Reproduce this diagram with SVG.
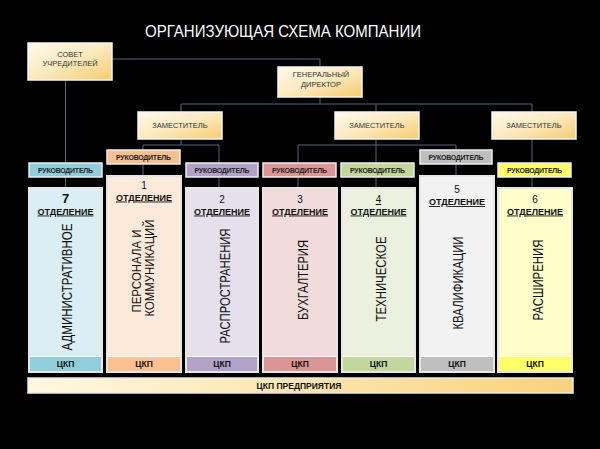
<svg xmlns="http://www.w3.org/2000/svg" width="600" height="449" viewBox="0 0 600 449">
<defs>
<linearGradient id="gold" x1="0" y1="0" x2="1" y2="1">
<stop offset="0" stop-color="#FFFAEC"/>
<stop offset="0.5" stop-color="#FCE9BE"/>
<stop offset="1" stop-color="#F5CC6E"/>
</linearGradient>
<linearGradient id="bar" x1="0" y1="0" x2="1" y2="0">
<stop offset="0" stop-color="#FFF8E2"/>
<stop offset="1" stop-color="#F8D27C"/>
</linearGradient>
</defs>
<style>
text{font-family:"Liberation Sans",Arial,sans-serif;fill:#111}
.gold{fill:url(#gold);stroke:#F4F4F4;stroke-width:1.5}
.gt{font-size:7.5px;fill:#333;text-anchor:middle}
.con{fill:none;stroke:#56627A;stroke-width:1}
.ruk{stroke:#EDEDED;stroke-width:1.5}
.rt{font-size:7px;font-weight:bold;text-anchor:middle;fill:#222}
.dep{stroke:#E6E6E6;stroke-width:2}
.num{font-size:10px;text-anchor:middle}
.otd{font-size:9px;font-weight:bold;text-anchor:middle;text-decoration:underline}
.vt{font-size:14px;text-anchor:middle}
.ckp{font-size:8.5px;font-weight:bold;text-anchor:middle}
</style>
<rect width="600" height="449" fill="#000"/>
<text x="145" y="37" font-size="17" style="fill:#fff" textLength="276" lengthAdjust="spacingAndGlyphs">ОРГАНИЗУЮЩАЯ СХЕМА КОМПАНИИ</text>

<g id="connectors">
<path class="con" d="M112 59H320V67"/>
<path class="con" d="M65.5 80V188"/>
<path class="con" d="M320 97V104M181 112V104H532V112M376 104V112"/>
<path class="con" d="M181 139V145M143 176V145H219V188"/>
<path class="con" d="M376 139V188M298 188V145H456V176"/>
<path class="con" d="M532 139V188"/>
</g>

<g id="sovet"><rect class="gold" x="28" y="43" width="84" height="37"/><text class="gt" x="70" y="57">СОВЕТ</text><text class="gt" x="70" y="66">УЧРЕДИТЕЛЕЙ</text></g>
<g id="gendir"><rect class="gold" x="278" y="67" width="84" height="30"/><text class="gt" x="321" y="77">ГЕНЕРАЛЬНЫЙ</text><text class="gt" x="321" y="87">ДИРЕКТОР</text></g>
<g id="zam1"><rect class="gold" x="138" y="112" width="84" height="27"/><text class="gt" x="180" y="128">ЗАМЕСТИТЕЛЬ</text></g>
<g id="zam2"><rect class="gold" x="335" y="112" width="84" height="27"/><text class="gt" x="377" y="128">ЗАМЕСТИТЕЛЬ</text></g>
<g id="zam3"><rect class="gold" x="492" y="112" width="84" height="27"/><text class="gt" x="534" y="128">ЗАМЕСТИТЕЛЬ</text></g>

<g id="ruk7"><rect class="ruk" x="29" y="163" width="73" height="14" fill="#92CDDC"/><text class="rt" x="65.5" y="172.5" textLength="55">РУКОВОДИТЕЛЬ</text></g>
<g id="ruk1"><rect class="ruk" x="107" y="150" width="73" height="14" fill="#FAC090"/><text class="rt" x="143.5" y="159.5" textLength="55">РУКОВОДИТЕЛЬ</text></g>
<g id="ruk2"><rect class="ruk" x="186" y="163" width="72" height="14" fill="#B3A2C7"/><text class="rt" x="222" y="172.5" textLength="55">РУКОВОДИТЕЛЬ</text></g>
<g id="ruk3"><rect class="ruk" x="263" y="163" width="73" height="14" fill="#D99694"/><text class="rt" x="299.5" y="172.5" textLength="55">РУКОВОДИТЕЛЬ</text></g>
<g id="ruk4"><rect class="ruk" x="341" y="163" width="73" height="14" fill="#C3D69B"/><text class="rt" x="377.5" y="172.5" textLength="55">РУКОВОДИТЕЛЬ</text></g>
<g id="ruk5"><rect class="ruk" x="420" y="150" width="72" height="14" fill="#BFBFBF"/><text class="rt" x="456" y="159.5" textLength="55">РУКОВОДИТЕЛЬ</text></g>
<g id="ruk6"><rect class="ruk" x="498" y="163" width="73" height="14" fill="#FFFF66"/><text class="rt" x="534.5" y="172.5" textLength="55">РУКОВОДИТЕЛЬ</text></g>

<g id="dep7"><rect class="dep" x="29" y="188" width="73" height="184" fill="#DAEEF3"/><rect x="30" y="357" width="71" height="14" fill="#92CDDC"/><line x1="30" y1="356.5" x2="101" y2="356.5" stroke="#fff"/>
<text x="65.5" y="203" font-size="13" font-weight="bold" text-anchor="middle">7</text><text class="otd" x="65.5" y="214.5">ОТДЕЛЕНИЕ</text>
<text class="vt" transform="translate(72,287) rotate(-90)" textLength="127" lengthAdjust="spacingAndGlyphs">АДМИНИСТРАТИВНОЕ</text>
<text class="ckp" x="65.5" y="367">ЦКП</text></g>

<g id="dep1"><rect class="dep" x="107" y="176" width="74" height="196" fill="#FDE9D9"/><rect x="108" y="357" width="72" height="14" fill="#FAC090"/><line x1="108" y1="356.5" x2="180" y2="356.5" stroke="#fff"/>
<text class="num" x="144" y="188.5">1</text><text class="otd" x="144" y="200.5">ОТДЕЛЕНИЕ</text>
<text class="vt" font-size="13" style="font-size:13px" transform="translate(140.5,271) rotate(-90)" textLength="83" lengthAdjust="spacingAndGlyphs">ПЕРСОНАЛА И</text>
<text class="vt" style="font-size:13px" transform="translate(154,268) rotate(-90)" textLength="97" lengthAdjust="spacingAndGlyphs">КОММУНИКАЦИЙ</text>
<text class="ckp" x="144" y="367">ЦКП</text></g>

<g id="dep2"><rect class="dep" x="186" y="188" width="72" height="184" fill="#E6E0EC"/><rect x="187" y="357" width="70" height="14" fill="#B3A2C7"/><line x1="187" y1="356.5" x2="257" y2="356.5" stroke="#fff"/>
<text class="num" x="222" y="203">2</text><text class="otd" x="222" y="214.5">ОТДЕЛЕНИЕ</text>
<text class="vt" transform="translate(229.5,286) rotate(-90)" textLength="115" lengthAdjust="spacingAndGlyphs">РАСПРОСТРАНЕНИЯ</text>
<text class="ckp" x="222" y="367">ЦКП</text></g>

<g id="dep3"><rect class="dep" x="263" y="188" width="74" height="184" fill="#F2DCDB"/><rect x="264" y="357" width="72" height="14" fill="#D99694"/><line x1="264" y1="356.5" x2="336" y2="356.5" stroke="#fff"/>
<text class="num" x="300" y="203">3</text><text class="otd" x="300" y="214.5">ОТДЕЛЕНИЕ</text>
<text class="vt" transform="translate(307.5,280) rotate(-90)" textLength="80" lengthAdjust="spacingAndGlyphs">БУХГАЛТЕРИЯ</text>
<text class="ckp" x="300" y="367">ЦКП</text></g>

<g id="dep4"><rect class="dep" x="342" y="188" width="73" height="184" fill="#EBF1DE"/><rect x="343" y="357" width="71" height="14" fill="#C3D69B"/><line x1="343" y1="356.5" x2="414" y2="356.5" stroke="#fff"/>
<text class="num" x="378.5" y="203" text-decoration="underline">4</text><text class="otd" x="378.5" y="214.5">ОТДЕЛЕНИЕ</text>
<text class="vt" transform="translate(385.5,279) rotate(-90)" textLength="85" lengthAdjust="spacingAndGlyphs">ТЕХНИЧЕСКОЕ</text>
<text class="ckp" x="378.5" y="367">ЦКП</text></g>

<g id="dep5"><rect class="dep" x="420" y="176" width="74" height="196" fill="#F2F2F2"/><rect x="421" y="357" width="72" height="14" fill="#BFBFBF"/><line x1="421" y1="356.5" x2="493" y2="356.5" stroke="#fff"/>
<text class="num" x="457" y="193">5</text><text class="otd" x="457" y="205">ОТДЕЛЕНИЕ</text>
<text class="vt" transform="translate(462.5,283) rotate(-90)" textLength="93" lengthAdjust="spacingAndGlyphs">КВАЛИФИКАЦИИ</text>
<text class="ckp" x="457" y="367">ЦКП</text></g>

<g id="dep6"><rect class="dep" x="498" y="188" width="74" height="184" fill="#FFFFCC"/><rect x="499" y="357" width="72" height="14" fill="#FFFF66"/><line x1="499" y1="356.5" x2="571" y2="356.5" stroke="#fff"/>
<text class="num" x="535" y="203">6</text><text class="otd" x="535" y="214.5">ОТДЕЛЕНИЕ</text>
<text class="vt" transform="translate(542.5,280) rotate(-90)" textLength="81" lengthAdjust="spacingAndGlyphs">РАСШИРЕНИЯ</text>
<text class="ckp" x="535" y="367">ЦКП</text></g>

<g id="ckp-enterprise"><rect x="28" y="378" width="545" height="15" fill="url(#bar)" stroke="#E8E8E8" stroke-width="1.5"/><text class="ckp" x="299" y="389">ЦКП ПРЕДПРИЯТИЯ</text></g>
</svg>
